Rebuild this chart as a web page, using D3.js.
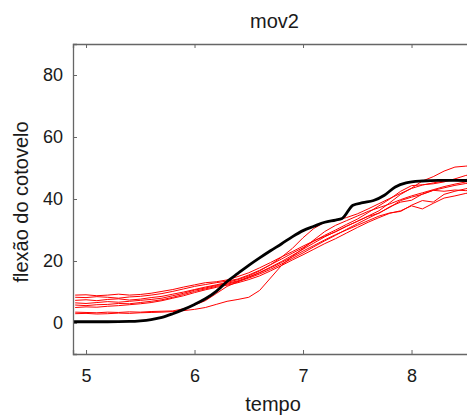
<!DOCTYPE html>
<html>
<head>
<meta charset="utf-8">
<script src="https://cdn.jsdelivr.net/npm/d3@7"></script>
<style>
  body { margin: 0; background: #fff; }
  svg { display: block; font-family: "Liberation Sans", Arial, sans-serif; }
</style>
</head>
<body>
<svg id="chart" width="467" height="415"></svg>
<script>
// sample times for the trials (s)
const tempo = [4.9, 5.0, 5.1, 5.2, 5.3, 5.4, 5.5, 5.6, 5.7, 5.8, 5.9, 6.0, 6.1, 6.2, 6.3, 6.4, 6.5, 6.6, 6.7,
  6.8, 6.9, 7.0, 7.1, 7.2, 7.3, 7.4, 7.5, 7.6, 7.7, 7.8, 7.9, 8.0, 8.1, 8.2, 8.3, 8.4, 8.5, 8.6];

// individual trials (red)
const ensaios = [
  [9.0, 9.1, 8.8, 9.0, 9.3, 9.0, 9.2, 9.6, 10.2, 10.8, 11.6, 12.3, 13.0, 13.3, 13.9, 15.0, 16.2, 17.8, 19.5,
    21.3, 23.0, 24.8, 26.5, 28.0, 29.4, 31.2, 32.8, 34.5, 36.2, 38.8, 41.5, 43.5, 45.8, 47.2, 49.0, 50.3, 50.6, 50.9],
  [8.3, 8.2, 8.5, 8.3, 8.0, 8.4, 8.6, 9.0, 9.5, 10.2, 11.0, 11.8, 12.4, 13.0, 13.5, 14.2, 15.5, 17.0, 18.8,
    20.6, 22.5, 24.3, 26.4, 28.3, 30.0, 31.8, 33.5, 35.6, 37.8, 40.0, 42.5, 44.3, 44.6, 44.9, 45.5, 46.5, 47.6, 48.2],
  [7.3, 7.5, 7.2, 7.6, 7.8, 7.4, 7.7, 8.2, 8.6, 9.3, 10.0, 10.8, 11.6, 12.3, 13.1, 14.0, 15.2, 16.8, 18.8,
    21.2, 24.0, 27.5, 30.5, 32.5, 33.2, 34.0, 35.2, 36.8, 38.5, 40.2, 41.8, 43.4, 44.5, 45.2, 45.8, 46.0, 46.3, 46.6],
  [6.5, 6.3, 6.6, 6.9, 6.7, 7.0, 7.3, 7.6, 8.0, 8.8, 9.6, 10.6, 11.3, 12.1, 12.8, 13.6, 14.8, 16.3, 18.0,
    19.8, 21.8, 23.8, 25.8, 27.8, 29.5, 31.2, 32.8, 34.4, 35.4, 37.5, 39.0, 39.6, 41.6, 42.8, 43.6, 44.4, 45.0, 45.5],
  [5.8, 5.6, 5.9, 6.0, 6.3, 6.2, 6.6, 7.0, 7.5, 8.3, 9.2, 10.2, 11.0, 11.8, 12.5, 13.4, 14.5, 15.8, 17.3,
    19.0, 20.8, 22.6, 24.6, 26.5, 28.3, 30.2, 32.0, 33.8, 35.5, 37.3, 39.5, 40.6, 41.5, 42.8, 42.5, 42.9, 42.7, 42.8],
  [5.0, 5.2, 5.1, 5.4, 5.6, 5.9, 6.2, 6.6, 7.2, 8.0, 8.8, 9.8, 10.7, 11.5, 12.2, 13.0, 14.0, 15.2, 16.8,
    18.5, 20.3, 22.0, 23.8, 25.6, 27.2, 29.0, 30.8, 32.5, 34.0, 35.4, 36.2, 37.8, 36.8, 38.6, 40.3, 41.0, 41.8, 42.3],
  [3.5, 3.4, 3.3, 3.5, 3.4, 3.6, 3.5, 3.7, 3.8, 3.9, 4.6, 5.8, 7.2, 9.5, 11.8, 13.3, 14.8, 16.2, 17.8,
    19.5, 21.3, 23.2, 25.0, 26.8, 28.5, 30.0, 31.5, 33.0, 34.5, 35.5, 36.0, 38.0, 39.5, 39.0, 41.5, 42.5, 43.3, 44.0],
  [3.0, 3.1, 2.9, 3.0, 3.2, 3.1, 3.3, 3.4, 3.5, 3.7, 4.0, 4.4, 5.0, 6.0, 7.0, 7.6, 8.3, 10.5, 14.5,
    18.5, 21.5, 24.0, 26.8, 29.5, 31.5, 33.0, 34.5, 36.0, 37.2, 38.4, 39.8, 41.0, 42.0, 43.0, 44.0, 44.8, 45.5, 46.0]
];

// mean curve (black)
const tempoMedia = [4.88, 5.0, 5.2, 5.4, 5.5, 5.6, 5.7, 5.8, 5.9, 6.0, 6.1, 6.2, 6.3, 6.4, 6.5, 6.6, 6.7, 6.8,
  6.9, 7.0, 7.1, 7.2, 7.3, 7.36, 7.46, 7.55, 7.65, 7.75, 7.85, 7.95, 8.1, 8.25, 8.4, 8.6];
const media = [0.4, 0.4, 0.4, 0.5, 0.7, 1.1, 1.8, 3.0, 4.4, 6.0, 7.8, 10.2, 13.4, 16.0, 18.6, 21.0, 23.3, 25.5,
  27.8, 29.8, 31.2, 32.5, 33.2, 33.7, 38.0, 38.8, 39.5, 41.2, 43.9, 45.2, 45.8, 46.0, 46.0, 45.9];

const xTicks = [5, 6, 7, 8];
const yTicks = [0, 20, 40, 60, 80];

const svg = d3.select("#chart");
const mLeft = 73, mRight = 475, mTop = 44, mBottom = 354;

const x = d3.scaleLinear().domain([4.88, 8.585]).range([mLeft, mRight]);
const y = d3.scaleLinear().domain([-10, 90]).range([mBottom, mTop]);

const redLine = d3.line().x((d, i) => x(tempo[i])).y(d => y(d));
const blackLine = d3.line().x((d, i) => x(tempoMedia[i])).y(d => y(d)).curve(d3.curveMonotoneX);

const g = svg.append("g");

ensaios.forEach(s => {
  g.append("path").datum(s)
    .attr("d", redLine)
    .attr("fill", "none")
    .attr("stroke", "#ff0000")
    .attr("stroke-width", 1)
    .attr("stroke-linejoin", "round");
});

g.append("path").datum(media)
  .attr("d", blackLine)
  .attr("fill", "none")
  .attr("stroke", "#000")
  .attr("stroke-width", 2.8)
  .attr("stroke-linejoin", "round");

// axes, MATLAB style (ticks pointing in)
const axisColor = "#666";
const xb = svg.append("g").attr("transform", `translate(0,${mBottom})`)
  .call(d3.axisBottom(x).tickValues(xTicks).tickSize(-4).tickPadding(12).tickFormat(d3.format("d")));
const xt = svg.append("g").attr("transform", `translate(0,${mTop})`)
  .call(d3.axisTop(x).tickValues(xTicks).tickSize(-4).tickFormat(""));
const yl = svg.append("g").attr("transform", `translate(${mLeft},0)`)
  .call(d3.axisLeft(y).tickValues(yTicks).tickSize(-4).tickPadding(10).tickFormat(d3.format("d")));

[xb, xt, yl].forEach(a => {
  a.select(".domain").attr("stroke", axisColor).attr("stroke-width", 1.3);
  a.selectAll(".tick line").attr("stroke", axisColor);
  a.selectAll("text").attr("fill", "#1a1a1a").style("font-size", "18px");
});
xb.selectAll("text").attr("dy", "0.88em");

svg.append("text")
  .attr("x", 274.5).attr("y", 28)
  .attr("text-anchor", "middle")
  .style("font-size", "20px").attr("fill", "#1a1a1a")
  .text("mov2");

svg.append("text")
  .attr("x", 273).attr("y", 411)
  .attr("text-anchor", "middle")
  .style("font-size", "20px").attr("fill", "#1a1a1a")
  .text("tempo");

svg.append("text")
  .attr("transform", `translate(28,202) rotate(-90)`)
  .attr("text-anchor", "middle")
  .style("font-size", "20px").attr("fill", "#1a1a1a")
  .text("flexão do cotovelo");
</script>
</body>
</html>
